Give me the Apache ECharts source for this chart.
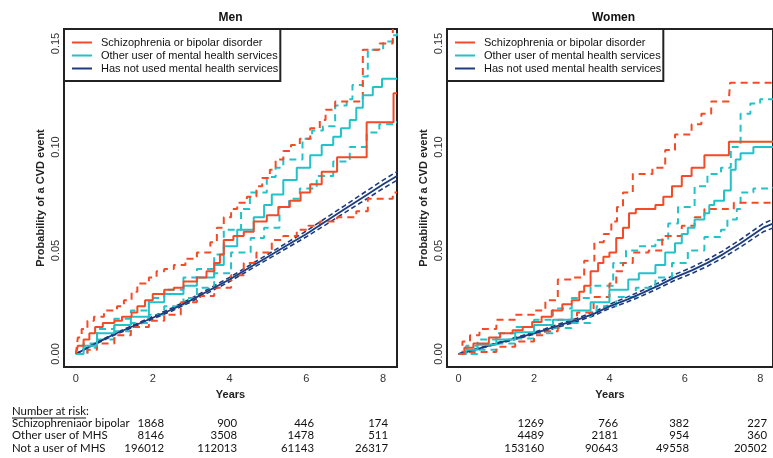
<!DOCTYPE html>
<html>
<head>
<meta charset="utf-8">
<script src="https://cdn.jsdelivr.net/npm/echarts@6/dist/echarts.min.js"></script>
<style>
  html, body { margin: 0; padding: 0; background: #fff; }
  #chart { width: 773px; height: 458px; }
</style>
</head>
<body>
<div id="chart"></div>
<script>
// ---- data (years, cumulative probability) ----
const groupNames = ["Schizophrenia or bipolar disorder", "Other user of mental health services", "Has not used mental health services"];
const xTicks = [0, 2, 4, 6, 8];
const yTicks = [0, 0.05, 0.1, 0.15];

// Men
const menSchizo = [[0,0],[0.05,0.004],[0.2,0.007],[0.35,0.010],[0.5,0.013],[0.7,0.015],[1.0,0.016],[1.2,0.018],[1.45,0.020],[1.6,0.023],[1.8,0.026],[2.0,0.029],[2.3,0.031],[2.55,0.032],[2.8,0.035],[3.15,0.037],[3.4,0.040],[3.6,0.044],[3.75,0.048],[3.85,0.055],[4.1,0.057],[4.37,0.059],[4.63,0.064],[4.97,0.067],[5.27,0.071],[5.57,0.074],[5.85,0.078],[6.1,0.082],[6.4,0.088],[6.8,0.095],[7.57,0.112],[8.27,0.126],[8.36,0.126]];
const menSchizoUp = [[0,0],[0.05,0.008],[0.15,0.012],[0.3,0.016],[0.47,0.018],[0.73,0.021],[1.07,0.023],[1.25,0.026],[1.45,0.030],[1.6,0.034],[1.9,0.037],[2.1,0.040],[2.3,0.041],[2.55,0.043],[2.85,0.046],[3.15,0.049],[3.5,0.054],[3.67,0.061],[3.85,0.066],[4.04,0.070],[4.2,0.073],[4.45,0.076],[4.7,0.081],[4.85,0.085],[5.05,0.089],[5.2,0.094],[5.4,0.098],[5.6,0.101],[5.83,0.104],[6.1,0.109],[6.35,0.113],[6.5,0.118],[6.75,0.122],[7.47,0.147],[7.9,0.150],[8.25,0.157]];
const menSchizoLo = [[0,0],[0.3,0.002],[0.55,0.005],[1.0,0.009],[1.43,0.013],[1.9,0.016],[2.3,0.019],[2.73,0.025],[3.15,0.028],[3.6,0.032],[4.04,0.038],[4.37,0.044],[4.7,0.049],[5.1,0.055],[5.4,0.057],[5.75,0.060],[6.05,0.062],[6.35,0.064],[6.8,0.066],[7.3,0.069],[7.6,0.075],[8.25,0.078],[8.36,0.078]];
const menOther = [[0,0],[0.2,0.004],[0.55,0.010],[1.0,0.014],[1.43,0.018],[1.9,0.025],[2.3,0.029],[2.8,0.033],[3.15,0.037],[3.6,0.043],[3.85,0.052],[4.2,0.060],[4.63,0.066],[4.9,0.072],[5.1,0.077],[5.4,0.084],[5.75,0.090],[6.1,0.096],[6.4,0.101],[6.7,0.105],[6.9,0.109],[7.13,0.113],[7.3,0.119],[7.47,0.125],[7.73,0.129],[7.97,0.133],[8.36,0.133]];
const menOtherUp = [[0,0],[0.2,0.005],[0.55,0.012],[1.0,0.017],[1.43,0.021],[1.9,0.027],[2.3,0.031],[2.8,0.037],[3.15,0.041],[3.6,0.048],[3.85,0.060],[4.3,0.070],[4.53,0.078],[4.97,0.0855],[5.2,0.090],[5.4,0.094],[5.9,0.104],[6.15,0.108],[6.43,0.110],[6.75,0.120],[7.05,0.123],[7.2,0.130],[7.47,0.134],[7.6,0.147],[8.0,0.151],[8.25,0.154],[8.36,0.155]];
const menOtherLo = [[0,0],[0.3,0.003],[0.55,0.007],[1.0,0.011],[1.43,0.015],[1.9,0.019],[2.3,0.023],[2.8,0.027],[3.15,0.032],[3.6,0.039],[4.04,0.049],[4.55,0.056],[4.9,0.061],[5.3,0.071],[5.55,0.075],[5.83,0.080],[6.27,0.086],[6.7,0.093],[7.13,0.100],[7.57,0.107],[7.9,0.111],[8.3,0.112],[8.36,0.112]];
const menNone = [[0,0],[0.5,0.005],[1,0.0095],[1.5,0.0135],[2,0.0175],[2.5,0.0215],[3,0.026],[3.5,0.031],[4,0.036],[4.5,0.0415],[5,0.047],[5.5,0.0525],[6,0.058],[6.5,0.064],[7,0.070],[7.5,0.076],[8,0.082],[8.36,0.086]];
const menNoneUp = [[0,0],[0.5,0.0053],[1,0.0099],[1.5,0.0140],[2,0.0181],[2.5,0.0222],[3,0.0268],[3.5,0.0319],[4,0.0370],[4.5,0.0426],[5,0.0482],[5.5,0.0538],[6,0.0594],[6.5,0.0656],[7,0.0717],[7.5,0.0779],[8,0.0840],[8.36,0.0881]];
const menNoneLo = [[0,0],[0.5,0.0047],[1,0.0091],[1.5,0.0130],[2,0.0169],[2.5,0.0208],[3,0.0252],[3.5,0.0301],[4,0.0350],[4.5,0.0404],[5,0.0458],[5.5,0.0512],[6,0.0566],[6.5,0.0624],[7,0.0683],[7.5,0.0741],[8,0.0800],[8.36,0.0839]];

// Women
const womenSchizo = [[0,0],[0.15,0.003],[0.39,0.005],[0.8,0.008],[1.1,0.010],[1.43,0.0115],[1.7,0.013],[1.95,0.0155],[2.2,0.018],[2.47,0.021],[2.75,0.024],[3.0,0.026],[3.2,0.030],[3.33,0.033],[3.5,0.040],[3.7,0.044],[3.84,0.047],[4.0,0.049],[4.18,0.056],[4.36,0.061],[4.52,0.068],[4.7,0.070],[5.22,0.072],[5.43,0.076],[5.66,0.081],[5.92,0.086],[6.18,0.090],[6.52,0.096],[7.17,0.1025],[8.34,0.1025]];
const womenSchizoUp = [[0,0],[0.1,0.006],[0.3,0.009],[0.55,0.012],[1.0,0.0165],[1.5,0.019],[2.0,0.021],[2.3,0.026],[2.63,0.036],[3.0,0.037],[3.33,0.045],[3.6,0.054],[3.85,0.058],[4.05,0.064],[4.2,0.071],[4.36,0.078],[4.62,0.087],[5.14,0.090],[5.48,0.0985],[5.74,0.106],[6.18,0.111],[6.44,0.116],[6.7,0.122],[7.17,0.123],[7.2,0.131],[8.34,0.131]];
const womenSchizoLo = [[0,0],[0.3,0.001],[1.0,0.0035],[1.5,0.006],[2.0,0.009],[2.3,0.011],[2.63,0.0165],[3.14,0.020],[3.58,0.0275],[4.0,0.034],[4.18,0.040],[4.36,0.044],[4.62,0.049],[5.04,0.050],[5.4,0.057],[5.92,0.062],[6.26,0.066],[6.52,0.070],[7.3,0.073],[8.34,0.073]];
const womenOther = [[0,0],[0.2,0.002],[0.5,0.0045],[1.0,0.007],[1.5,0.0105],[2.0,0.014],[2.5,0.0165],[3.0,0.021],[3.5,0.025],[4.0,0.031],[4.5,0.036],[4.78,0.039],[5.22,0.043],[5.48,0.049],[5.74,0.0535],[5.92,0.058],[6.08,0.061],[6.26,0.065],[6.52,0.068],[6.65,0.072],[6.78,0.074],[7.04,0.079],[7.22,0.089],[7.35,0.094],[7.48,0.097],[7.82,0.100],[8.34,0.100]];
const womenOtherUp = [[0,0],[0.2,0.004],[0.5,0.007],[1.0,0.010],[1.5,0.013],[2.0,0.0165],[2.5,0.022],[3.0,0.027],[3.5,0.033],[4.1,0.044],[4.44,0.050],[4.78,0.052],[5.22,0.055],[5.56,0.063],[5.82,0.071],[6.26,0.081],[6.6,0.087],[6.96,0.090],[7.22,0.100],[7.48,0.116],[7.74,0.121],[8.0,0.123],[8.34,0.123]];
const womenOtherLo = [[0,0],[0.5,0.002],[1.0,0.005],[1.5,0.0075],[2.0,0.010],[2.5,0.0125],[3.0,0.015],[3.5,0.020],[3.66,0.023],[4.18,0.0275],[4.7,0.032],[5.22,0.037],[5.66,0.044],[6.08,0.050],[6.52,0.0565],[6.96,0.060],[7.13,0.065],[7.38,0.070],[7.48,0.078],[7.82,0.080],[8.34,0.0805]];
const womenNone = [[0,0],[0.5,0.0025],[1.0,0.005],[1.4,0.007],[2.0,0.010],[2.28,0.0115],[2.7,0.014],[3.14,0.0165],[3.6,0.0195],[4.0,0.023],[4.5,0.0265],[4.88,0.0295],[5.3,0.033],[5.74,0.037],[6.2,0.0405],[6.6,0.044],[7.0,0.048],[7.48,0.0535],[8.08,0.061],[8.34,0.063]];
const womenNoneUp = [[0,0],[0.5,0.0027],[1.0,0.0053],[1.4,0.0074],[2.0,0.0105],[2.28,0.0121],[2.7,0.0147],[3.14,0.0173],[3.6,0.0204],[4.0,0.0240],[4.5,0.0277],[4.88,0.0308],[5.3,0.0343],[5.74,0.0384],[6.2,0.0420],[6.6,0.0456],[7.0,0.0497],[7.48,0.0553],[8.08,0.0630],[8.34,0.0651]];
const womenNoneLo = [[0,0],[0.5,0.0023],[1.0,0.0047],[1.4,0.0066],[2.0,0.0095],[2.28,0.0109],[2.7,0.0133],[3.14,0.0157],[3.6,0.0186],[4.0,0.0220],[4.5,0.0253],[4.88,0.0282],[5.3,0.0317],[5.74,0.0356],[6.2,0.0390],[6.6,0.0424],[7.0,0.0463],[7.48,0.0517],[8.08,0.0590],[8.34,0.0609]];

// number at risk table
const riskLabels = ["Schizophreniaor bipolar", "Other user of MHS", "Not a user of MHS"];
const menRisk = [[1868, 900, 446, 174], [8146, 3508, 1478, 511], [196012, 112013, 61143, 26317]];
const womenRisk = [[1269, 766, 382, 227], [4489, 2181, 954, 360], [153160, 90643, 49558, 20502]];

const RED = "#F44A25", CYAN = "#22C2C9", NAVY = "#1D3C7E";
const FONT = "Liberation Sans";
const TFONT = "11.4px Lato";

const chart = echarts.init(document.getElementById("chart"));

function line(name, data, color, dashed, idx, step, width, dash) {
  return {
    name: name,
    type: "line",
    xAxisIndex: idx,
    yAxisIndex: idx,
    data: data,
    step: step ? "end" : false,
    showSymbol: false,
    silent: true,
    lineStyle: { color: color, width: width || 2, type: dashed ? (dash || [7, 5]) : "solid" },
    itemStyle: { color: color },
    z: dashed ? 2 : 3
  };
}

function panel(idx, d) {
  return [
    line(groupNames[2], d[6], NAVY, false, idx, false, 1.8),
    line("nu", d[7], NAVY, true, idx, false, 1.6, [5, 3]),
    line("nl", d[8], NAVY, true, idx, false, 1.6, [5, 3]),
    line(groupNames[1], d[3], CYAN, false, idx, true),
    line("ou", d[4], CYAN, true, idx, true),
    line("ol", d[5], CYAN, true, idx, true),
    line(groupNames[0], d[0], RED, false, idx, true),
    line("su", d[1], RED, true, idx, true),
    line("sl", d[2], RED, true, idx, true)
  ];
}

function xAxis(idx, min, max) {
  return {
    type: "value", gridIndex: idx, min: min, max: max,
    splitLine: { show: false }, axisLine: { show: false }, axisTick: { show: false },
    axisLabel: { customValues: xTicks, margin: 6, color: "#333", fontSize: 11, fontFamily: FONT },
    name: "Years", nameLocation: "middle", nameGap: 22,
    nameTextStyle: { fontWeight: "bold", fontSize: 11, color: "#222", fontFamily: FONT }
  };
}
function yAxis(idx) {
  return {
    type: "value", gridIndex: idx, min: -0.0063, max: 0.157,
    splitLine: { show: false }, axisLine: { show: false }, axisTick: { show: false },
    axisLabel: { customValues: yTicks, rotate: 90, margin: 3, color: "#333", fontSize: 11, fontFamily: FONT,
      formatter: v => v.toFixed(2) },
    name: "Probability of a CVD event", nameLocation: "middle", nameGap: 18,
    nameTextStyle: { fontWeight: "bold", fontSize: 11, color: "#222", fontFamily: FONT }
  };
}
function legend(left) {
  return {
    data: groupNames, left: left, top: 29, orient: "vertical",
    icon: "rect", itemWidth: 20, itemHeight: 2, itemGap: 0,
    padding: [7, 2, 6, 8],
    backgroundColor: "#fff", borderColor: "#222", borderWidth: 2, borderRadius: 0,
    selectedMode: false,
    textStyle: { fontSize: 11, lineHeight: 13, color: "#111", fontFamily: FONT, padding: [0, 0, 0, 4] }
  };
}

const graphics = [
  { type: "text", x: 230.5, y: 18, style: { text: "Men", align: "center", verticalAlign: "middle", font: "bold 12px '" + FONT + "'", fill: "#111" } },
  { type: "text", x: 613.5, y: 18, style: { text: "Women", align: "center", verticalAlign: "middle", font: "bold 12px '" + FONT + "'", fill: "#111" } },
  { type: "text", x: 12, y: 411, style: { text: "Number at risk:", verticalAlign: "middle", font: TFONT, fill: "#111" } },
  { type: "line", shape: { x1: 12, y1: 418, x2: 86, y2: 418 }, style: { stroke: "#111", lineWidth: 1 } }
];
const rowY = [423, 435.5, 448];
const menCols = [164, 237, 314, 388];
const womenCols = [544, 618, 689, 767];
riskLabels.forEach((lab, r) => {
  graphics.push({ type: "text", x: 12, y: rowY[r], style: { text: lab, verticalAlign: "middle", font: TFONT, fill: "#111" } });
  menRisk[r].forEach((v, c) => graphics.push({ type: "text", x: menCols[c], y: rowY[r], style: { text: String(v), align: "right", verticalAlign: "middle", font: TFONT, fill: "#111" } }));
  womenRisk[r].forEach((v, c) => graphics.push({ type: "text", x: womenCols[c], y: rowY[r], style: { text: String(v), align: "right", verticalAlign: "middle", font: TFONT, fill: "#111" } }));
});

chart.setOption({
  animation: false,
  backgroundColor: "#fff",
  grid: [
    { left: 64, top: 29, width: 333, height: 338, show: true, borderColor: "#222", borderWidth: 2 },
    { left: 447, top: 29, width: 333, height: 338, show: true, borderColor: "#222", borderWidth: 2 }
  ],
  xAxis: [xAxis(0, -0.31, 8.36), xAxis(1, -0.31, 8.34)],
  yAxis: [yAxis(0), yAxis(1)],
  legend: [legend(64), legend(447)],
  graphic: graphics,
  series: panel(0, [menSchizo, menSchizoUp, menSchizoLo, menOther, menOtherUp, menOtherLo, menNone, menNoneUp, menNoneLo])
    .concat(panel(1, [womenSchizo, womenSchizoUp, womenSchizoLo, womenOther, womenOtherUp, womenOtherLo, womenNone, womenNoneUp, womenNoneLo]))
});
</script>
</body>
</html>
